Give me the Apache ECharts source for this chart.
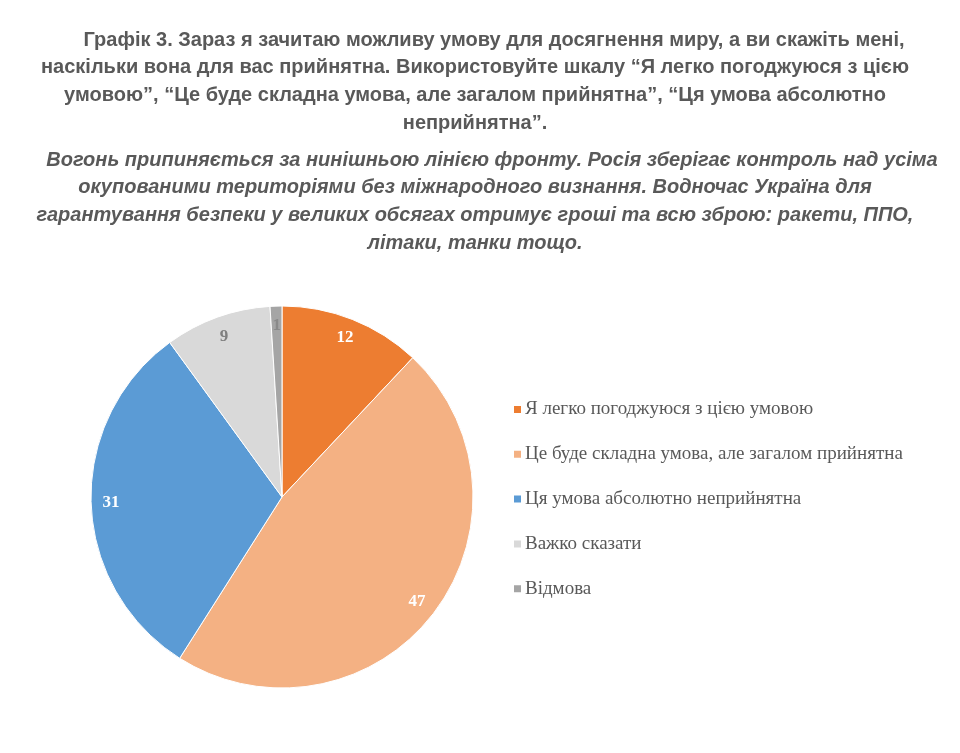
<!DOCTYPE html>
<html><head><meta charset="utf-8">
<script src="https://cdn.jsdelivr.net/npm/echarts@6/dist/echarts.min.js"></script>
<style>html,body{margin:0;padding:0;background:#fff}#c{width:960px;height:753px}</style>
</head><body><div id="c"></div>
<script>
const categories = ["Я легко погоджуюся з цією умовою","Це буде складна умова, але загалом прийнятна","Ця умова абсолютно неприйнятна","Важко сказати","Відмова"];
const values = [12, 47, 31, 9, 1];
const colors = ["#ED7D31","#F4B183","#5B9BD5","#D9D9D9","#A5A5A5"];
const labelColors = ["#ffffff","#ffffff","#ffffff","#7f7f7f","#8a8a8a"];
const titleLines = ["Графік 3. Зараз я зачитаю можливу умову для досягнення миру, а ви скажіть мені,","наскільки вона для вас прийнятна. Використовуйте шкалу “Я легко погоджуюся з цією","умовою”, “Це буде складна умова, але загалом прийнятна”, “Ця умова абсолютно","неприйнятна”."];
const subLines = ["Вогонь припиняється за нинішньою лінією фронту. Росія зберігає контроль над усіма","окупованими територіями без міжнародного визнання. Водночас Україна для","гарантування безпеки у великих обсягах отримує гроші та всю зброю: ракети, ППО,","літаки, танки тощо."];

const chart = echarts.init(document.getElementById('c'));
const data = categories.map((n,i)=>({name:n,value:values[i],itemStyle:{color:colors[i]},label:{color:labelColors[i]}}));
const mkText = (lines, y0, italic, indent) => lines.map((t,i)=>({type:'text',x:475+(i===0?indent:0),y:y0+i*27.7,
  style:{text:t,align:'center',verticalAlign:'middle',fill:'#595959',
  font:(italic?'italic ':'')+'bold 20px "Liberation Sans"'}}));
chart.setOption({
  backgroundColor:'#fff',
  graphic:[...mkText(titleLines,40,false,19),...mkText(subLines,160,true,17)],
  legend:{orient:'vertical',left:507,top:395,itemWidth:9,itemHeight:9,itemGap:25.8,icon:'rect',
    data:categories,
    textStyle:{fontFamily:'Liberation Serif',fontSize:19,color:'#595959',padding:[0,0,0,-2]}},
  series:[
    {type:'pie',center:[282,497],radius:[0,191],startAngle:90,clockwise:true,
     data:data,label:{show:false},labelLine:{show:false},
     itemStyle:{borderColor:'#fff',borderWidth:1},emphasis:{disabled:true},silent:true,animation:false},
    {type:'pie',center:[282,497],radius:[145,191],startAngle:90,clockwise:true,
     data:data.map(d=>({name:d.name,value:d.value,label:d.label})),
     itemStyle:{color:'rgba(0,0,0,0)'},
     label:{show:true,position:'inside',formatter:'{c}',fontFamily:'Liberation Serif',fontWeight:'bold',fontSize:17},
     labelLine:{show:false},emphasis:{disabled:true},silent:true,animation:false,legendHoverLink:false}
  ]
});
</script></body></html>
